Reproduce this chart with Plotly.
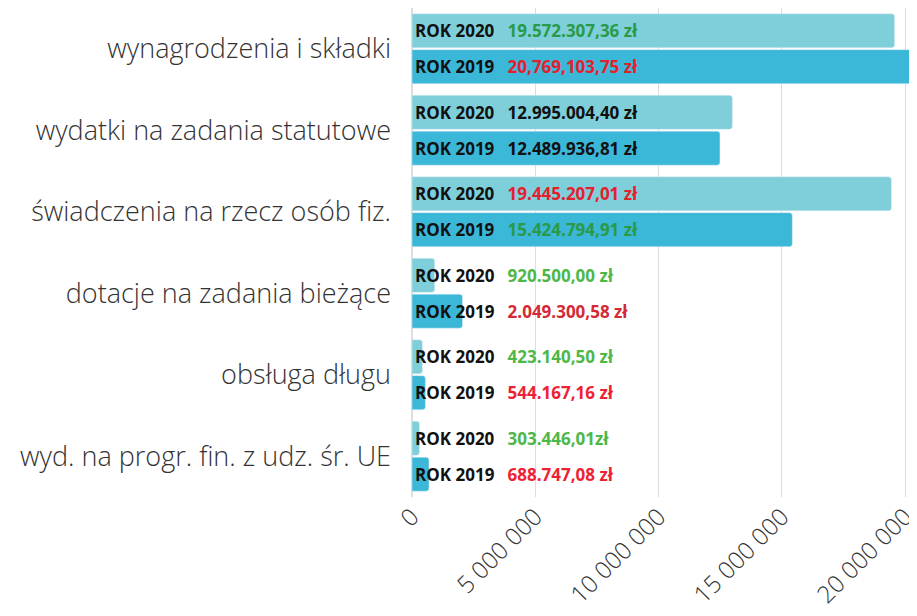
import plotly.graph_objects as go

categories = [
    "wynagrodzenia i składki",
    "wydatki na zadania statutowe",
    "świadczenia na rzecz osób fiz.",
    "dotacje na zadania bieżące",
    "obsługa długu",
    "wyd. na progr. fin. z udz. śr. UE",
]
values_2020 = [19572307.36, 12995004.40, 19445207.01, 920500.00, 423140.50, 303446.01]
values_2019 = [20769103.75, 12489936.81, 15424794.91, 2049300.58, 544167.16, 688747.08]
labels_2020 = ["19.572.307,36 zł", "12.995.004,40 zł", "19.445.207,01 zł", "920.500,00 zł", "423.140,50 zł", "303.446,01zł"]
labels_2019 = ["20,769,103,75 zł", "12.489.936,81 zł", "15.424.794,91 zł", "2.049.300,58 zł", "544.167,16 zł", "688.747,08 zł"]
label_colors_2020 = ["#2a9a48", "#111111", "#e5202e", "#4db848", "#4db848", "#4db848"]
label_colors_2019 = ["#e5202e", "#111111", "#2a9a48", "#d42a36", "#ee2233", "#ee2233"]
tick_vals = [0, 5000000, 10000000, 15000000, 20000000]
tick_text = ["0", "5 000 000", "10 000 000", "15 000 000", "20 000 000"]


def make_text(year, labels, colors):
    return [f"<b>ROK {year}</b>   <b><span style='color:{c}'>{l}</span></b>" for l, c in zip(labels, colors)]


fig = go.Figure()
fig.add_trace(go.Bar(
    y=categories, x=values_2020, orientation="h", name="2020",
    marker=dict(color="#7ecfd9", cornerradius=3),
    text=make_text(2020, labels_2020, label_colors_2020),
    textposition="inside", insidetextanchor="start", constraintext="none", textangle=0,
    insidetextfont=dict(family="Open Sans", size=17, color="#111111"),
    hoverinfo="skip",
))
fig.add_trace(go.Bar(
    y=categories, x=values_2019, orientation="h", name="2019",
    marker=dict(color="#3bb7d7", cornerradius=3),
    text=make_text(2019, labels_2019, label_colors_2019),
    textposition="inside", insidetextanchor="start", constraintext="none", textangle=0,
    insidetextfont=dict(family="Open Sans", size=17, color="#111111"),
    hoverinfo="skip",
))

fig.update_layout(
    width=917, height=616,
    barmode="group", bargap=0.12, bargroupgap=0.05,
    showlegend=False,
    plot_bgcolor="white", paper_bgcolor="white",
    margin=dict(l=404, r=8, t=0, b=127, autoexpand=False),
    font=dict(family="Open Sans", color="#333333"),
)
fig.update_yaxes(
    autorange="reversed", automargin=False,
    tickfont=dict(family="Open Sans", size=27, color="#333333", weight=300),
    ticklabelstandoff=20, showgrid=False, showline=False, ticks="",
)
fig.update_xaxes(
    range=[0, 20480000], automargin=False,
    tickvals=tick_vals, ticktext=tick_text, tickangle=-45,
    tickfont=dict(family="Open Sans", size=24, color="#333333", weight=300),
    showgrid=True, gridcolor="#dddddd", gridwidth=1,
    zeroline=True, zerolinecolor="#dddddd", showline=False, ticks="",
)

fig.write_html("out.html")
